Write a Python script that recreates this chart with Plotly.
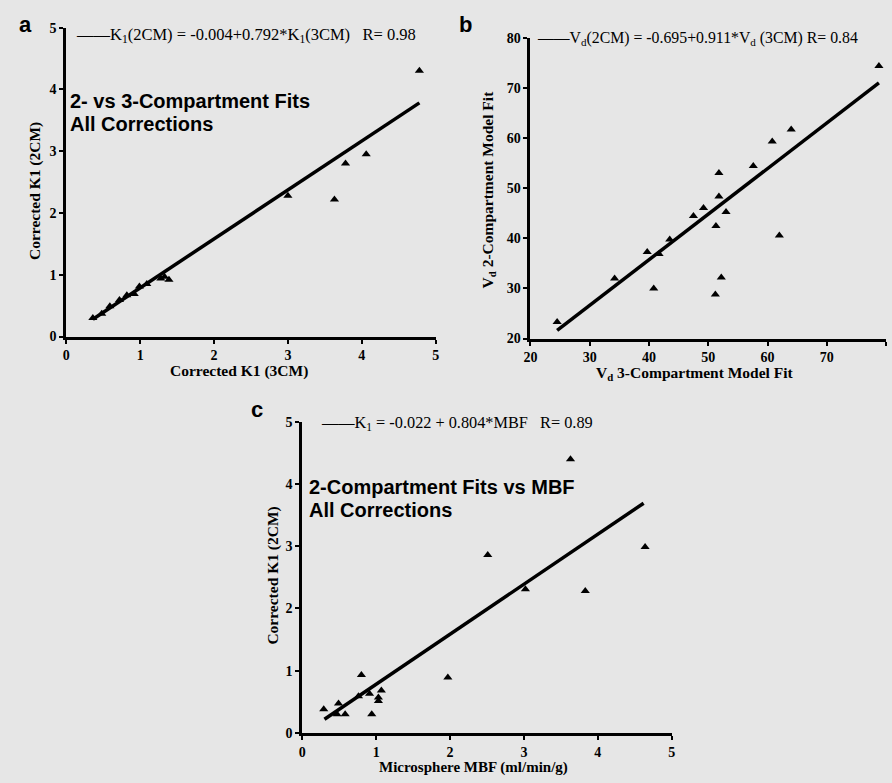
import plotly.graph_objects as go

W, H = 892, 783

# ---- data ----
a_x = [0.36, 0.48, 0.59, 0.72, 0.82, 0.92, 0.99, 1.09, 1.28, 1.33, 1.39, 3.0, 3.63, 3.78, 4.06, 4.78]
a_y = [0.30, 0.37, 0.49, 0.59, 0.67, 0.69, 0.81, 0.85, 0.94, 0.97, 0.92, 2.28, 2.22, 2.80, 2.95, 4.30]

b_x = [24.5, 34.2, 39.7, 40.8, 41.7, 43.5, 47.5, 49.2, 51.2, 51.3, 51.8, 51.8, 52.2, 53.0, 57.6, 60.8, 62.0, 64.0, 78.8]
b_y = [23.3, 32.0, 37.3, 30.0, 36.9, 39.8, 44.5, 46.1, 28.8, 42.5, 48.4, 53.1, 32.2, 45.3, 54.5, 59.4, 40.6, 61.8, 74.5]

c_x = [0.29, 0.47, 0.49, 0.58, 0.76, 0.80, 0.91, 0.94, 1.03, 1.03, 1.07, 1.97, 2.51, 3.02, 3.63, 3.83, 4.64]
c_y = [0.38, 0.30, 0.47, 0.30, 0.59, 0.93, 0.63, 0.30, 0.51, 0.57, 0.68, 0.89, 2.86, 2.31, 4.40, 2.28, 2.99]

# regression (intercept, slope) and x extent of the drawn fit
fit_a = (-0.004, 0.792); fit_a_x = [0.36, 4.78]
fit_b = (-0.695, 0.911); fit_b_x = [24.5, 78.8]
fit_c = (-0.022, 0.804); fit_c_x = [0.30, 4.62]

a_ticks = [0, 1, 2, 3, 4, 5]
b_ticks = [20, 30, 40, 50, 60, 70, 80]
c_ticks = [0, 1, 2, 3, 4, 5]

BG = "#e6e6e6"
SERIF = "Liberation Serif"
SANS = "Liberation Sans"


def px(x):
    return x / W


def py(y):
    return 1 - y / H


fig = go.Figure()


def add_panel(xs, ys, fit, fx, xa, ya):
    fig.add_trace(go.Scatter(x=xs, y=ys, mode="markers", xaxis=xa, yaxis=ya,
                             marker=dict(symbol="triangle-up", size=8, color="black"),
                             showlegend=False, hoverinfo="skip", cliponaxis=False))
    fy = [fit[0] + fit[1] * v for v in fx]
    fig.add_trace(go.Scatter(x=fx, y=fy, mode="lines", xaxis=xa, yaxis=ya,
                             line=dict(color="black", width=3.5),
                             showlegend=False, hoverinfo="skip"))


add_panel(a_x, a_y, fit_a, fit_a_x, "x", "y")
add_panel(b_x, b_y, fit_b, fit_b_x, "x2", "y2")
add_panel(c_x, c_y, fit_c, fit_c_x, "x3", "y3")

tickfont = dict(family=SERIF, size=14, color="black", weight="bold")
axis_common = dict(showgrid=False, zeroline=False, showline=True, linecolor="black",
                   linewidth=3, ticks="outside", ticklen=4, tickwidth=2, tickcolor="black",
                   tickfont=tickfont, fixedrange=True)

fig.update_layout(
    width=W, height=H,
    margin=dict(l=0, r=0, t=0, b=0),
    paper_bgcolor=BG, plot_bgcolor=BG,
    xaxis=dict(domain=[px(60), px(434)], range=[0, 5], tickvals=a_ticks, anchor="y", **axis_common),
    yaxis=dict(domain=[py(336), py(21)], range=[0, 5], tickvals=a_ticks, anchor="x", **axis_common),
    xaxis2=dict(domain=[px(530), px(890)], range=[20, 80], tickvals=b_ticks, anchor="y2", **axis_common),
    yaxis2=dict(domain=[py(338), py(32)], range=[20, 80], tickvals=b_ticks, anchor="x2", **axis_common),
    xaxis3=dict(domain=[px(299), px(673)], range=[0, 5], tickvals=c_ticks, anchor="y3", **axis_common),
    yaxis3=dict(domain=[py(740), py(423)], range=[0, 5], tickvals=c_ticks, anchor="x3", **axis_common),
)

NB = "\u00a0"
annos = []


def note(text, x, y, size, family, xanchor="left", yanchor="middle", weight="normal", angle=0):
    annos.append(dict(text=text, x=px(x), y=py(y), xref="paper", yref="paper",
                      xanchor=xanchor, yanchor=yanchor, showarrow=False, textangle=angle,
                      font=dict(family=family, size=size, color="black", weight=weight), align="left"))


# panel letters
note("a", 10, 18, 22, SANS, weight="bold")
note("b", 456, 18, 22, SANS, weight="bold")
note("c", 245, 410, 22, SANS, weight="bold")

# equations (legend lines)
note("\u2014\u2014K<sub>1</sub>(2CM) = -0.004+0.792*K<sub>1</sub>(3CM)" + NB * 3 + "R= 0.98", 68, 29, 16.5, SERIF)
note("\u2014\u2014V<sub>d</sub>(2CM) = -0.695+0.911*V<sub>d</sub> (3CM) R= 0.84", 535, 32, 15.8, SERIF)
note("\u2014\u2014K<sub>1</sub> = -0.022 + 0.804*MBF" + NB * 3 + "R= 0.89", 316, 424, 16.3, SERIF)

# in-plot titles
note("2- vs 3-Compartment Fits", 62, 96, 20, SANS, weight="bold")
note("All Corrections", 62, 119, 20, SANS, weight="bold")
note("2-Compartment Fits vs MBF", 304, 489, 20, SANS, weight="bold")
note("All Corrections", 304, 513, 20, SANS, weight="bold")

# axis titles
note("Corrected K1 (3CM)", 235, 371, 15.5, SERIF, xanchor="center", weight="bold")
note("Corrected K1 (2CM)", 29, 188, 15.5, SERIF, xanchor="center", weight="bold", angle=-90)
note("V<sub>d</sub> 3-Compartment Model Fit", 697, 374, 15.5, SERIF, xanchor="center", weight="bold")
note("V<sub>d</sub> 2-Compartment Model Fit", 487, 186, 15.5, SERIF, xanchor="center", weight="bold", angle=-90)
note("Microsphere MBF (ml/min/g)", 472, 775, 15, SERIF, xanchor="center", weight="bold")
note("Corrected K1 (2CM)", 269, 580, 15.5, SERIF, xanchor="center", weight="bold", angle=-90)

fig.update_layout(annotations=annos)

fig.write_html("out.html", config={"displayModeBar": False},
               post_script="document.body.style.margin='0';document.body.style.overflow='hidden';")
